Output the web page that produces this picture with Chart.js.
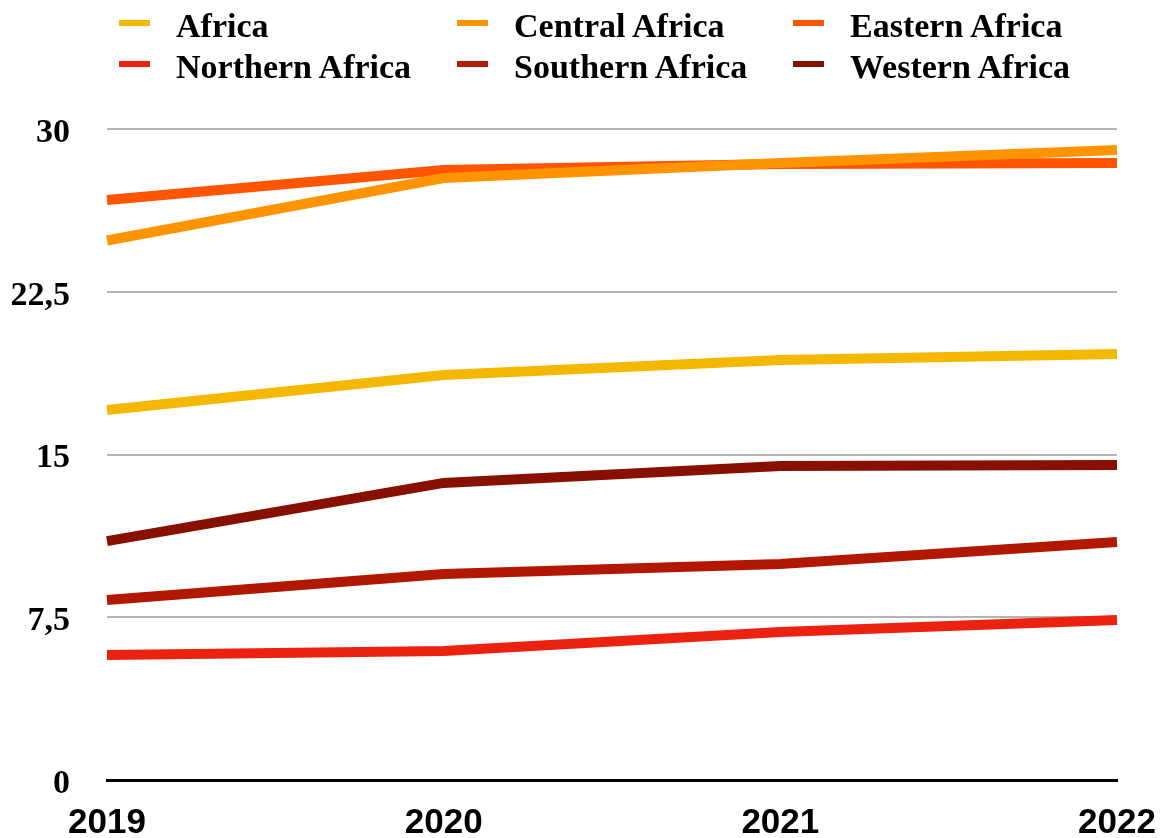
<!DOCTYPE html>
<html>
<head>
<meta charset="utf-8">
<script src="https://cdn.jsdelivr.net/npm/chart.js@4.4.1/dist/chart.umd.min.js"></script>
<style>
  html, body { margin: 0; padding: 0; background: #fff; }
  #wrap { position: relative; width: 1162px; height: 838px; }
  #chart { position: absolute; left: 0; top: 0; }
  .lg { position: absolute; display: flex; align-items: center; height: 40px;
        font-family: "Liberation Serif", "Times New Roman", serif; font-weight: bold;
        font-size: 34px; color: #000; white-space: nowrap; }
  .lg .mk { width: 31px; height: 6px; margin-right: 26px; position: relative; top: -3px; }
</style>
</head>
<body>
<div id="wrap">
  <canvas id="chart" width="1162" height="838"></canvas>
</div>
<script>
const years = ["2019", "2020", "2021", "2022"];
const seriesNames = ["Africa", "Central Africa", "Eastern Africa", "Northern Africa", "Southern Africa", "Western Africa"];
const africa   = [17.05, 18.66, 19.35, 19.63];
const central  = [24.86, 27.74, 28.43, 29.03];
const eastern  = [26.73, 28.11, 28.39, 28.43];
const northern = [5.76, 5.94, 6.82, 7.37];
const southern = [8.29, 9.49, 9.95, 10.97];
const western  = [11.01, 13.69, 14.47, 14.52];
const yTicks = [0, 7.5, 15, 22.5, 30];
const colors = ["#F5B800", "#FF9300", "#FF5500", "#EC2210", "#B21800", "#881000"];

const values = [africa, central, eastern, northern, southern, western];

// HTML legend (3 columns x 2 rows, aligned)
const wrap = document.getElementById('wrap');
const colX = [119, 457, 793];
const rowY = [6, 47];
seriesNames.forEach((name, i) => {
  const d = document.createElement('div');
  d.className = 'lg';
  d.style.left = colX[i % 3] + 'px';
  d.style.top = rowY[Math.floor(i / 3)] + 'px';
  const m = document.createElement('span');
  m.className = 'mk';
  m.style.background = colors[i];
  const t = document.createElement('span');
  t.textContent = name;
  d.appendChild(m); d.appendChild(t);
  wrap.appendChild(d);
});

new Chart(document.getElementById('chart'), {
  type: 'line',
  data: {
    labels: years,
    datasets: seriesNames.map((name, i) => ({
      label: name,
      data: values[i],
      borderColor: colors[i],
      backgroundColor: colors[i],
      borderWidth: 10,
      pointRadius: 0,
      tension: 0,
      fill: false
    }))
  },
  options: {
    responsive: false,
    animation: false,
    events: [],
    layout: { padding: { top: 129, right: 45, bottom: 0, left: 0 } },
    plugins: { legend: { display: false }, tooltip: { enabled: false } },
    scales: {
      x: {
        offset: false,
        grid: { display: false, drawTicks: false },
        border: { display: true, color: '#000', width: 3 },
        ticks: {
          color: '#000',
          padding: 22,
          maxRotation: 0,
          autoSkip: false,
          font: { family: '"Liberation Sans", Arial, sans-serif', weight: 'bold', size: 35 }
        },
        afterFit: s => { s.height = 58; s.paddingLeft = 0; s.paddingRight = 0; }
      },
      y: {
        min: 0, max: 30,
        afterBuildTicks: s => { s.ticks = yTicks.map(v => ({ value: v })); },
        grid: {
          drawTicks: false,
          color: ctx => ctx.tick && ctx.tick.value === 0 ? 'rgba(0,0,0,0)' : '#b4b4b4',
          lineWidth: 2
        },
        border: { display: false },
        ticks: {
          color: '#000',
          padding: 37,
          labelOffset: 4,
          callback: v => String(v).replace('.', ','),
          font: { family: '"Liberation Serif", "Times New Roman", serif', weight: 'bold', size: 34 }
        },
        afterFit: s => { s.width = 107; }
      }
    }
  }
});
</script>
</body>
</html>
